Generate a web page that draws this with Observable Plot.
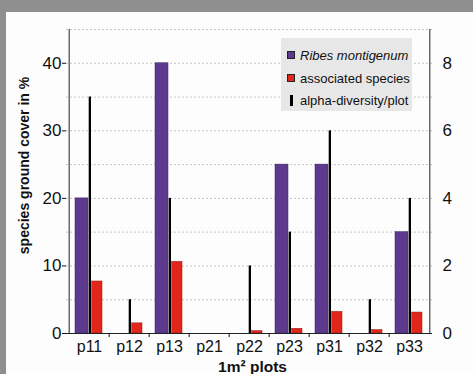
<!DOCTYPE html>
<html>
<head>
<meta charset="utf-8">
<script src="https://cdn.jsdelivr.net/npm/d3@7"></script>
<script src="https://cdn.jsdelivr.net/npm/@observablehq/plot@0.6"></script>
<style>
  html, body { margin: 0; padding: 0; }
  body { background: #ffffff; }
  #wrap { position: relative; width: 473px; height: 374px; background: #8f8f8f; overflow: hidden; }
  #chart { position: absolute; left: 6px; top: 12px; }
  #chart svg { display: block; }
  #legend { position: absolute; left: 281px; top: 38px; width: 131px; height: 73px; background: #e7e7e7;
            font-family: "Liberation Sans", Arial, sans-serif; font-size: 13px; color: #111; }
  .row { position: absolute; left: 6px; height: 14px; display: flex; align-items: center; }
  .sw { width: 8px; height: 8px; margin-right: 5px; box-sizing: border-box; border: 0.8px solid #222; }
  .bar { width: 3px; height: 11px; background: #000; margin-left: 3px; margin-right: 7px; }
</style>
</head>
<body>
<div id="wrap">
  <div id="chart"></div>
  <div id="legend"></div>
</div>
<script>
// ---- data ----
const categories = ["p11", "p12", "p13", "p21", "p22", "p23", "p31", "p32", "p33"];
const ribesCover = [20, 0, 40, 0, 0, 25, 25, 0, 15];          // % ground cover, Ribes montigenum
const associatedCover = [7.7, 1.5, 10.6, 0, 0.35, 0.7, 3.2, 0.5, 3.1]; // % ground cover, associated species
const alphaDiversity = [7, 1, 4, 0, 2, 3, 6, 1, 4];            // species per plot (right axis)
const leftTicks = [0, 10, 20, 30, 40];
const rightTicks = [0, 2, 4, 6, 8];
const gridValues = [5, 10, 15, 20, 25, 30, 35, 40, 45];
const seriesNames = ["Ribes montigenum", "associated species", "alpha-diversity/plot"];
const xLabel = "1m² plots";
const yLabel = "species ground cover in %";

const purple = "#5d3a8e";
const red = "#e2261c";
const rightFactor = 5; // right axis value * 5 = left axis value

const data = categories.map((c, i) => ({
  cat: c, ribes: ribesCover[i], assoc: associatedCover[i], alpha: alphaDiversity[i]
}));

const W = 467, H = 362, mL = 60, mR = 41, mT = 17, mB = 41;
const bw = (W - mL - mR) / categories.length;

const chart = Plot.plot({
  width: W, height: H,
  marginLeft: mL, marginRight: mR, marginTop: mT, marginBottom: mB,
  style: { fontFamily: "'Liberation Sans', Arial, sans-serif", background: "#fdfdfd", color: "#111" },
  x: { domain: categories, padding: 0, axis: null, label: null },
  y: { domain: [0, 45], axis: null, label: null },
  marks: [
    Plot.ruleY(gridValues, { stroke: "#b5b5b5", strokeDasharray: "2,2", strokeWidth: 0.8 }),
    Plot.barY(data, { x: "cat", y: "ribes", fill: purple, stroke: "#3a2460", strokeWidth: 0.5, insetLeft: 6, insetRight: 21 }),
    Plot.barY(data, { x: "cat", y: "assoc", fill: red, stroke: "#8a1a12", strokeWidth: 0.5, insetLeft: 22.7, insetRight: 7 }),
    Plot.barY(data, { x: "cat", y: d => d.alpha * rightFactor, fill: "#000", insetLeft: 19.7, insetRight: 18 }),
    Plot.ruleY([0], { stroke: "#222", strokeWidth: 1 }),
    Plot.ruleX([categories[0]], { y1: 0, y2: 45, dx: -bw / 2, stroke: "#222", strokeWidth: 1 }),
    Plot.ruleX([categories[categories.length - 1]], { y1: 0, y2: 45, dx: bw / 2, stroke: "#222", strokeWidth: 1 }),
    Plot.axisY({ ticks: leftTicks, anchor: "left", tickSize: 4, tickPadding: 1, fontSize: 17, label: null }),
    Plot.axisY({ ticks: rightTicks.map(t => t * rightFactor), anchor: "right", tickSize: 0, tickPadding: 10,
                 tickFormat: d => d / rightFactor, fontSize: 17, label: null }),
    Plot.axisX({ anchor: "bottom", tickSize: 0, tickPadding: 7, fontSize: 16, label: null }),
    Plot.axisX({ ticks: categories.slice(1), anchor: "bottom", tickSize: 4, tickFormat: () => "", dx: -bw / 2, label: null }),
    Plot.text([yLabel], { frameAnchor: "left", textAnchor: "middle", lineAnchor: "middle", rotate: -90, dx: -42, dy: -16, fontWeight: "bold", fontSize: 14, fill: "#111" }),
    Plot.text([xLabel], { frameAnchor: "bottom", textAnchor: "middle", lineAnchor: "middle", dx: 3, dy: 34, fontWeight: "bold", fontSize: 15.5, fill: "#111" })
  ]
});
document.getElementById("chart").appendChild(chart);

// ---- legend ----
const legend = document.getElementById("legend");
const swatches = [
  `<span class="sw" style="background:${purple}"></span>`,
  `<span class="sw" style="background:${red}"></span>`,
  `<span class="bar"></span>`
];
const tops = [10, 33, 55];
seriesNames.forEach((name, i) => {
  const row = document.createElement("div");
  row.className = "row";
  row.style.top = tops[i] + "px";
  row.innerHTML = swatches[i] + `<span style="${i === 0 ? "font-style:italic" : ""}">${name}</span>`;
  legend.appendChild(row);
});
</script>
</body>
</html>
